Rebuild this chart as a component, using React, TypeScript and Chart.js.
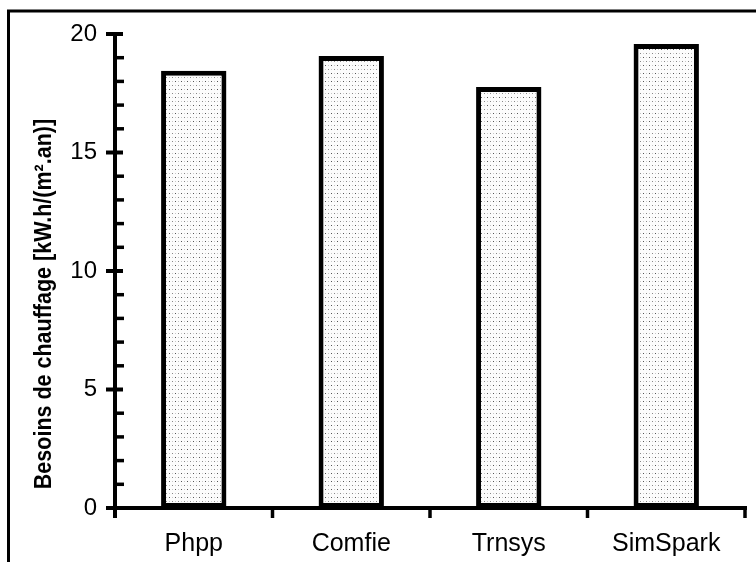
import React, { useEffect, useRef } from "react";
import { Chart, registerables } from "chart.js";

Chart.register(...registerables);

const categories: string[] = ["Phpp", "Comfie", "Trnsys", "SimSpark"];
const besoins: number[] = [18.45, 19.07, 17.76, 19.58];
const yTicks: number[] = [0, 5, 10, 15, 20];
const yMinorTicks: number[] = [1, 2, 3, 4, 6, 7, 8, 9, 11, 12, 13, 14, 16, 17, 18, 19];
const yTitle = "Besoins de chauffage [kW.h/(m\u00B2.an)]";

const FONT = "'Liberation Sans', Arial, Helvetica, sans-serif";

function makePattern(): CanvasPattern | string {
  const c = document.createElement("canvas");
  c.width = 6;
  c.height = 8;
  const g = c.getContext("2d");
  if (!g) return "#eeeeee";
  g.fillStyle = "#fcfcfc";
  g.fillRect(0, 0, 6, 8);
  g.fillStyle = "#555555";
  g.fillRect(1, 1, 1, 1);
  g.fillStyle = "#888888";
  g.fillRect(4, 5, 1, 1);
  g.fillStyle = "#c8c8c8";
  g.fillRect(4, 1, 1, 1);
  g.fillRect(1, 5, 1, 1);
  const p = g.createPattern(c, "repeat");
  return p || "#eeeeee";
}

const decorPlugin = {
  id: "decor",
  beforeDraw(chart: any) {
    const ctx = chart.ctx;
    ctx.save();
    ctx.fillStyle = "#ffffff";
    ctx.fillRect(0, 0, chart.width, chart.height);
    ctx.strokeStyle = "#000000";
    ctx.lineWidth = 3;
    ctx.beginPath();
    ctx.moveTo(8.5, chart.height);
    ctx.lineTo(8.5, 11);
    ctx.lineTo(chart.width, 11);
    ctx.stroke();
    ctx.restore();
  },
  afterDraw(chart: any) {
    const ctx = chart.ctx;
    const area = chart.chartArea;
    const ys = chart.scales.y;
    const xs = chart.scales.x;
    ctx.save();
    ctx.strokeStyle = "#000000";
    ctx.lineCap = "butt";
    ctx.lineWidth = 4;
    ctx.beginPath();
    ctx.moveTo(area.left, ys.getPixelForValue(20) - 2);
    ctx.lineTo(area.left, area.bottom + 10);
    ctx.stroke();
    ctx.beginPath();
    ctx.moveTo(area.left - 9, area.bottom);
    ctx.lineTo(area.right + 2, area.bottom);
    ctx.stroke();
    yTicks.forEach((v) => {
      const py = ys.getPixelForValue(v);
      ctx.beginPath();
      ctx.moveTo(area.left - 9, py);
      ctx.lineTo(area.left + 8, py);
      ctx.stroke();
    });
    ctx.lineWidth = 3.5;
    yMinorTicks.forEach((v) => {
      const py = ys.getPixelForValue(v);
      ctx.beginPath();
      ctx.moveTo(area.left, py);
      ctx.lineTo(area.left + 9, py);
      ctx.stroke();
    });
    const n = categories.length;
    for (let i = 0; i <= n; i++) {
      const px = xs.getPixelForValue(i - 0.5);
      ctx.beginPath();
      ctx.moveTo(px, area.bottom);
      ctx.lineTo(px, area.bottom + 10);
      ctx.stroke();
    }
    ctx.fillStyle = "#000000";
    ctx.font = "bold 21.5px " + FONT;
    ctx.textAlign = "center";
    ctx.textBaseline = "alphabetic";
    ctx.translate(51, 304);
    ctx.rotate(-Math.PI / 2);
    ctx.scale(1, 1.1);
    ctx.fillText(yTitle, 0, 0);
    ctx.restore();
  },
};

export default function App() {
  const ref = useRef<HTMLCanvasElement | null>(null);
  useEffect(() => {
    document.body.style.margin = "0";
    if (!ref.current) return;
    const chart = new Chart(ref.current, {
      type: "bar",
      data: {
        labels: categories,
        datasets: [
          {
            data: besoins,
            backgroundColor: makePattern() as any,
            borderColor: "#000000",
            borderWidth: 5,
            borderSkipped: false,
            categoryPercentage: 1,
            barPercentage: 0.415,
          },
        ],
      },
      options: {
        responsive: false,
        animation: false,
        layout: { padding: { top: 34, right: 11, left: 0, bottom: 0 } },
        plugins: {
          legend: { display: false },
          tooltip: { enabled: false },
          title: { display: false },
        },
        scales: {
          x: {
            grid: { display: false, drawTicks: false },
            border: { display: false },
            ticks: {
              color: "#000000",
              font: { family: FONT, size: 25 },
              padding: 21,
              maxRotation: 0,
            },
            afterFit: (s: any) => {
              s.height = 54;
            },
          },
          y: {
            min: 0,
            max: 20,
            grid: { display: false, drawTicks: false },
            border: { display: false },
            ticks: {
              stepSize: 5,
              color: "#000000",
              font: { family: FONT, size: 24 },
              padding: 18,
            },
            afterFit: (s: any) => {
              s.width = 115;
            },
          },
        },
      },
      plugins: [decorPlugin],
    });
    return () => chart.destroy();
  }, []);
  return (
    <div style={{ position: "absolute", left: 0, top: 0, width: 756, height: 562 }}>
      <canvas ref={ref} width={756} height={562} />
    </div>
  );
}
